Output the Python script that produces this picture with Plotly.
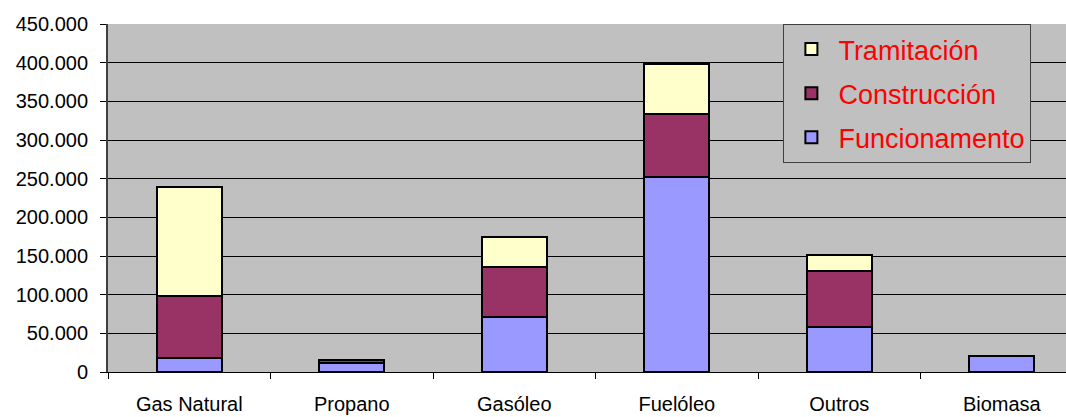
import plotly.graph_objects as go

categories = ["Gas Natural", "Propano", "Gasóleo", "Fuelóleo", "Outros", "Biomasa"]
funcionamento = [18000, 12000, 71000, 252000, 58000, 21000]
construccion = [80000, 3000, 65000, 82000, 73000, 0]
tramitacion = [141000, 500, 39000, 64000, 20000, 0]
y_ticks = [0, 50000, 100000, 150000, 200000, 250000, 300000, 350000, 400000, 450000]

fig = go.Figure()
series = [
    ("Funcionamento", funcionamento, "#9999FF", 3),
    ("Construcción", construccion, "#993366", 2),
    ("Tramitación", tramitacion, "#FFFFCC", 1),
]
for i, (name, vals, col, rank) in enumerate(series):
    fig.add_trace(go.Bar(
        x=categories, y=vals, name=name, legendgroup=str(i), legendrank=rank,
        marker=dict(color=col, line=dict(color="black", width=2)),
        width=0.4,
    ))

fig.update_layout(
    width=1066, height=417,
    barmode="stack",
    separators=",.",
    paper_bgcolor="white",
    plot_bgcolor="#C0C0C0",
    margin=dict(l=108, r=0, t=24, b=45),
    font=dict(family="Liberation Sans, Arial", size=20, color="black"),
    showlegend=True,
    legend=dict(
        x=0.705, y=1, xanchor="left", yanchor="top",
        bgcolor="#C0C0C0", bordercolor="#404040", borderwidth=1,
        font=dict(size=27, color="#FF0000"),
        traceorder="grouped", tracegroupgap=6,
        itemwidth=44,
    ),
)
fig.update_yaxes(
    range=[0, 450000], tickvals=y_ticks, tickformat=",d",
    showgrid=True, gridcolor="black", gridwidth=1,
    ticks="outside", ticklen=6, tickcolor="black",
    ticklabelstandoff=8,
    showline=True, linecolor="#404040", linewidth=2,
    zeroline=False,
)
fig.update_xaxes(
    range=[-0.5, 5.395],
    ticks="outside", tickson="boundaries", ticklen=6, tickcolor="black",
    ticklabelstandoff=14,
    showline=True, linecolor="black", linewidth=1,
    showgrid=False,
)
fig.write_html("out.html")
